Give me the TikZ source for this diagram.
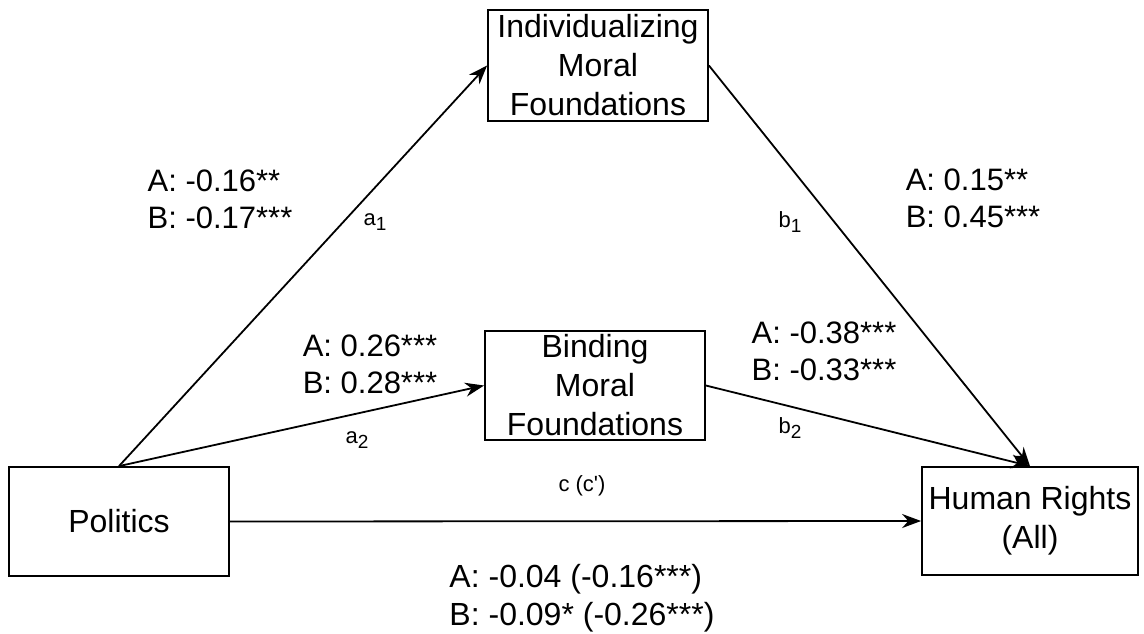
\documentclass[tikz,border=0pt]{standalone}
\usepackage{fontspec}
\setmainfont{Liberation Sans}
\usepackage{tikz}
\usetikzlibrary{arrows.meta, positioning}
\tikzset{
  varbox/.style={draw, line width=1.8pt, minimum width=220pt,
    minimum height=109pt, inner sep=0pt, align=center,
    font=\fontsize{32}{39}\selectfont},
  link/.style={-{Stealth[length=19pt,width=14pt]}, line width=1.8pt},
  coef/.style={align=left, inner sep=0pt, font=\fontsize{31}{37}\selectfont},
  tag/.style={inner sep=0pt, font=\fontsize{22}{24}\selectfont}
}
\newcommand{\pathlab}[2]{#1\raisebox{-5pt}{\fontsize{19}{19}\selectfont #2}}

\begin{document}
\begin{tikzpicture}[x=1pt, y=-1pt]
  \useasboundingbox (0,0) rectangle (1144,634);

  % variables
  \node[varbox] (pol) at (119,521.5) {Politics};
  \node[varbox, minimum height=111pt] (ind) at (598,65.5)
    {Individualizing\\Moral\\Foundations};
  \node[varbox] (bind) at (595,385.5) {Binding\\Moral\\Foundations};
  \node[varbox, minimum width=216pt, minimum height=108pt] (hr) at (1030,521)
    {Human Rights\\(All)};

  % paths
  \draw[link] (pol.north) -- (ind.west);
  \draw[link] (pol.north) -- (bind.west);
  \draw[link] (ind.east) -- (hr.north);
  \draw[link] (bind.east) -- (hr.north);
  \draw[link] (pol.east) -- (hr.west);

  % path names
  \node[tag] (ta1) at (375,222) {\pathlab{a}{1}};
  \node[tag] (tb1) at (790,222) {\pathlab{b}{1}};
  \node[tag] (ta2) at (357,440) {\pathlab{a}{2}};
  \node[tag] (tb2) at (790,428) {\pathlab{b}{2}};
  \node[tag] (tc) at (582,486) {c (c\textquotesingle)};

  % coefficients
  \node[coef] (ca1) at (220,199) {A: -0.16**\\B: -0.17***};
  \node[coef] (ca2) at (370,364) {A: 0.26***\\B: 0.28***};
  \node[coef] (cb1) at (973,198) {A: 0.15**\\B: 0.45***};
  \node[coef] (cb2) at (824,351) {A: -0.38***\\B: -0.33***};
  \node[coef, font=\fontsize{32}{38}\selectfont] (cc) at (582,598)
    {A: -0.04 (-0.16***)\\B: -0.09* (-0.26***)};
\end{tikzpicture}
\end{document}
